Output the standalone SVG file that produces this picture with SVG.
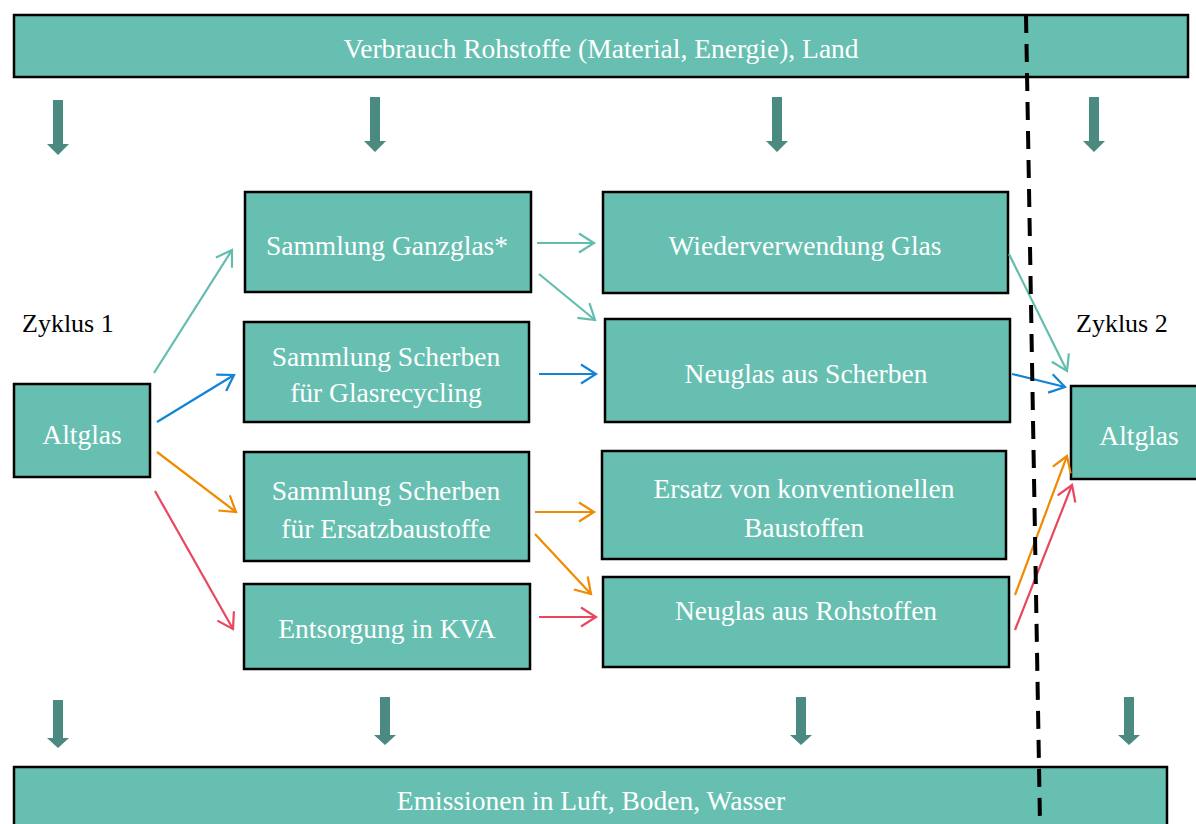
<svg xmlns="http://www.w3.org/2000/svg" width="1196" height="824" viewBox="0 0 1196 824">
  <style>
    .box { fill: #67bfb1; stroke: #000; stroke-width: 2.5; }
    .lbl { font-family: "Liberation Serif", "Times New Roman", serif; font-size: 27.5px; fill: #ffffff; text-anchor: middle; }
    .cyc { font-family: "Liberation Serif", "Times New Roman", serif; font-size: 26px; fill: #000000; }
    .con { fill: none; stroke-width: 2.2; }
    .teal { stroke: #62bdaf; marker-end: url(#mTeal); }
    .blue { stroke: #1184d6; marker-end: url(#mBlue); }
    .orange { stroke: #f08a00; marker-end: url(#mOrange); }
    .red { stroke: #e8475f; marker-end: url(#mRed); }
    .flow { fill: #4b8a80; }
    .divider { stroke: #000; stroke-width: 4; stroke-dasharray: 18 11; fill: none; }
  </style>
  <defs>
    <marker id="mTeal" markerUnits="userSpaceOnUse" viewBox="-17 -11 19 22" refX="0" refY="0" markerWidth="19" markerHeight="22" orient="auto" overflow="visible">
      <path d="M-15,-9.5 L0,0 L-15,9.5" fill="none" stroke="#62bdaf" stroke-width="2.2"/>
    </marker>
    <marker id="mBlue" markerUnits="userSpaceOnUse" viewBox="-17 -11 19 22" refX="0" refY="0" markerWidth="19" markerHeight="22" orient="auto" overflow="visible">
      <path d="M-15,-9.5 L0,0 L-15,9.5" fill="none" stroke="#1184d6" stroke-width="2.2"/>
    </marker>
    <marker id="mOrange" markerUnits="userSpaceOnUse" viewBox="-17 -11 19 22" refX="0" refY="0" markerWidth="19" markerHeight="22" orient="auto" overflow="visible">
      <path d="M-15,-9.5 L0,0 L-15,9.5" fill="none" stroke="#f08a00" stroke-width="2.2"/>
    </marker>
    <marker id="mRed" markerUnits="userSpaceOnUse" viewBox="-17 -11 19 22" refX="0" refY="0" markerWidth="19" markerHeight="22" orient="auto" overflow="visible">
      <path d="M-15,-9.5 L0,0 L-15,9.5" fill="none" stroke="#e8475f" stroke-width="2.2"/>
    </marker>
    <path id="downLong" class="flow" d="M-5,0 H5 V44 H11 L0,55 L-11,44 H-5 Z"/>
    <path id="downShort" class="flow" d="M-5,0 H5 V38 H11 L0,48 L-11,38 H-5 Z"/>
  </defs>

  <g id="verbrauch">
    <rect class="box" x="14" y="15" width="1174" height="62"/>
    <text class="lbl" x="601" y="58">Verbrauch Rohstoffe (Material, Energie), Land</text>
  </g>

  <g id="flows-in">
    <use href="#downLong" x="58" y="100"/>
    <use href="#downLong" x="375" y="97"/>
    <use href="#downLong" x="777" y="97"/>
    <use href="#downLong" x="1094" y="97"/>
  </g>

  <g id="zyklus1">
    <text class="cyc" x="22" y="332">Zyklus 1</text>
  </g>
  <g id="zyklus2">
    <text class="cyc" x="1076" y="332">Zyklus 2</text>
  </g>

  <g id="altglas1">
    <rect class="box" x="14" y="384" width="136" height="93"/>
    <text class="lbl" x="82" y="444">Altglas</text>
  </g>

  <g id="sammlung-ganzglas">
    <rect class="box" x="245" y="192" width="286" height="100"/>
    <text class="lbl" x="387" y="255">Sammlung Ganzglas*</text>
  </g>

  <g id="sammlung-glasrecycling">
    <rect class="box" x="244" y="322" width="285" height="100"/>
    <text class="lbl" x="386" y="366">Sammlung Scherben</text>
    <text class="lbl" x="386" y="402">für Glasrecycling</text>
  </g>

  <g id="sammlung-ersatzbaustoffe">
    <rect class="box" x="244" y="452" width="285" height="109"/>
    <text class="lbl" x="386" y="500">Sammlung Scherben</text>
    <text class="lbl" x="386" y="538">für Ersatzbaustoffe</text>
  </g>

  <g id="entsorgung-kva">
    <rect class="box" x="244" y="584" width="286" height="85"/>
    <text class="lbl" x="387" y="638">Entsorgung in KVA</text>
  </g>

  <g id="wiederverwendung">
    <rect class="box" x="603" y="192" width="405" height="101"/>
    <text class="lbl" x="805" y="255">Wiederverwendung Glas</text>
  </g>

  <g id="neuglas-scherben">
    <rect class="box" x="605" y="319" width="405" height="103"/>
    <text class="lbl" x="806" y="383">Neuglas aus Scherben</text>
  </g>

  <g id="ersatz-baustoffe">
    <rect class="box" x="602" y="451" width="404" height="108"/>
    <text class="lbl" x="804" y="498">Ersatz von konventionellen</text>
    <text class="lbl" x="804" y="537">Baustoffen</text>
  </g>

  <g id="neuglas-rohstoffe">
    <rect class="box" x="603" y="577" width="406" height="90"/>
    <text class="lbl" x="806" y="620">Neuglas aus Rohstoffen</text>
  </g>

  <g id="altglas2">
    <rect class="box" x="1071" y="386" width="140" height="93"/>
    <text class="lbl" x="1139" y="445">Altglas</text>
  </g>

  <g id="flows-out">
    <use href="#downShort" x="58" y="700"/>
    <use href="#downShort" x="385" y="697"/>
    <use href="#downShort" x="801" y="697"/>
    <use href="#downShort" x="1129" y="697"/>
  </g>

  <g id="emissionen">
    <rect class="box" x="14" y="767" width="1153" height="80"/>
    <text class="lbl" x="591" y="810">Emissionen in Luft, Boden, Wasser</text>
  </g>

  <g id="connectors">
    <line class="con teal" x1="154" y1="373" x2="232" y2="250"/>
    <line class="con teal" x1="537" y1="243" x2="594" y2="243"/>
    <line class="con teal" x1="539" y1="274" x2="595" y2="320"/>
    <line class="con teal" x1="1009" y1="254" x2="1067" y2="371"/>
    <line class="con blue" x1="157" y1="422" x2="234" y2="375"/>
    <line class="con blue" x1="539" y1="374" x2="596" y2="374"/>
    <line class="con blue" x1="1012" y1="374" x2="1065" y2="387"/>
    <line class="con orange" x1="157" y1="452" x2="236" y2="512"/>
    <line class="con orange" x1="535" y1="512" x2="594" y2="512"/>
    <line class="con orange" x1="535" y1="534" x2="591" y2="594"/>
    <line class="con orange" x1="1015" y1="595" x2="1067" y2="456"/>
    <line class="con red" x1="155" y1="491" x2="233" y2="629"/>
    <line class="con red" x1="539" y1="617" x2="596" y2="617"/>
    <line class="con red" x1="1015" y1="630" x2="1072" y2="485"/>
  </g>

  <g id="zyklus-grenze">
    <line class="divider" x1="1026" y1="15" x2="1040" y2="824"/>
  </g>
</svg>
